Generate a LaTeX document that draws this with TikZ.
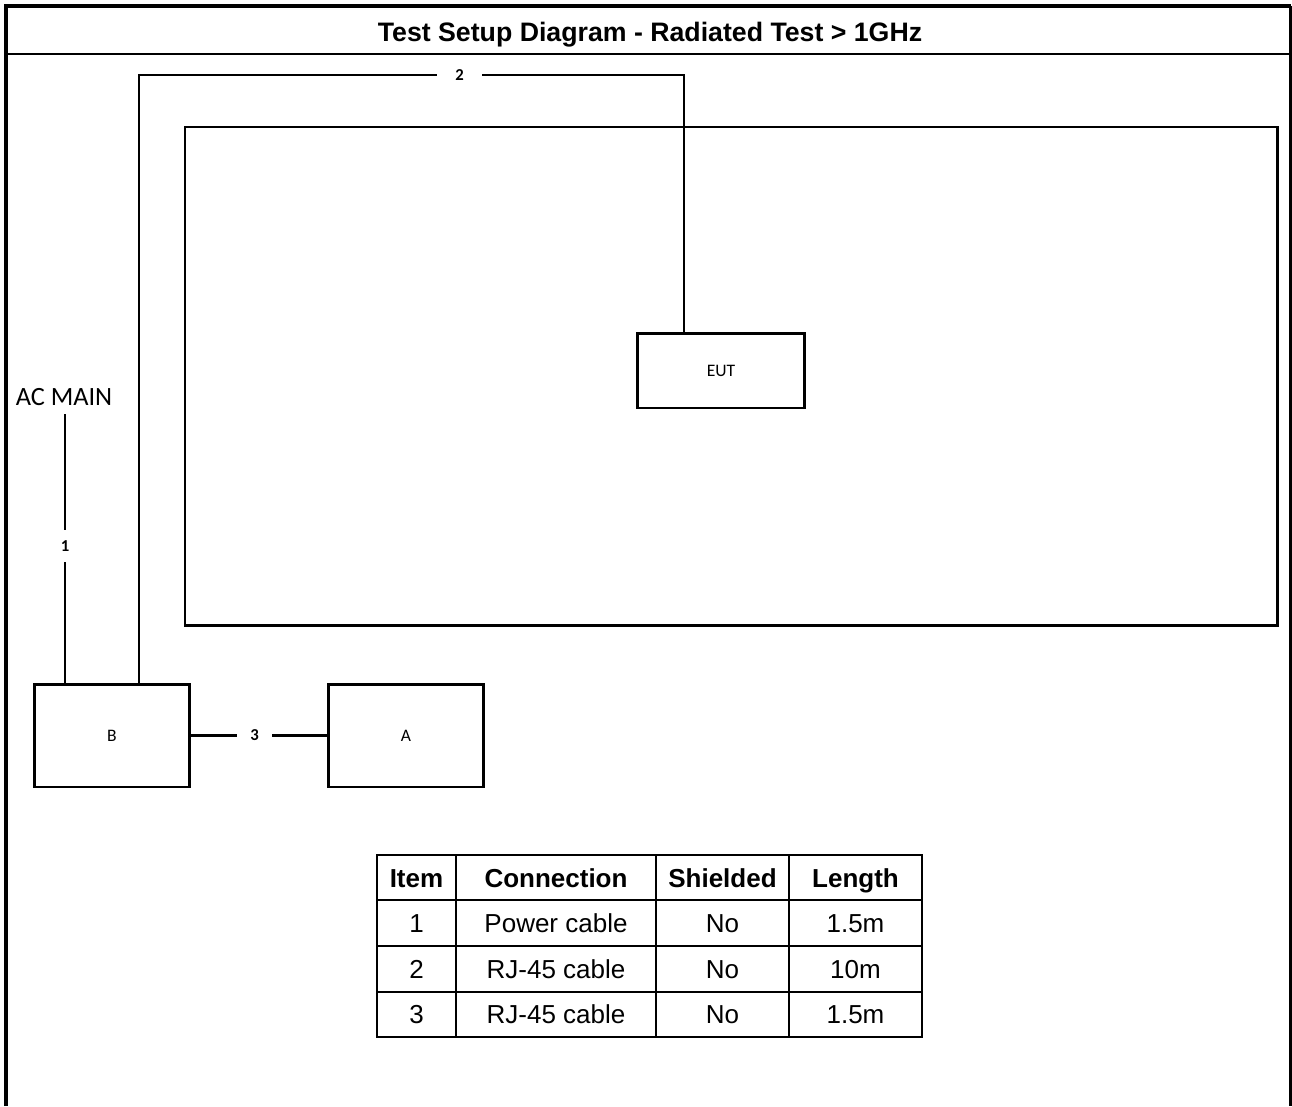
\documentclass[tikz,border=0pt]{standalone}
\usepackage{fontspec}
\setmainfont{Liberation Sans}
\newfontfamily\calibri{Carlito}
\usepackage{tikz}

\tikzset{
  unit/.style={draw, line width=1.7pt, rectangle, outer sep=0pt,
    font=\calibri\fontsize{10}{12}\selectfont},
  cable/.style={line width=1.3pt},
  cablenum/.style={inner sep=0pt, font=\calibri\bfseries\fontsize{9.5}{11}\selectfont},
  cell/.style={anchor=base, font=\fontsize{14.8}{17}\selectfont},
  headcell/.style={anchor=base, font=\bfseries\fontsize{14.8}{17}\selectfont},
}

\begin{document}
\begin{tikzpicture}[x=0.02cm,y=-0.02cm]
    \useasboundingbox (0,0) rectangle (1292,1106);
    % frame and title
    \draw[line width=2.3pt] (6,1106) -- (6,6) -- (1290.5,6);
    \draw[line width=1.2pt] (1290.5,6) -- (1290.5,1106);
    \draw[line width=1.2pt] (6,54) -- (1290.5,54);
    \node[anchor=base, font=\bfseries\fontsize{15.2}{18}\selectfont] (title) at (650,41) {Test Setup Diagram - Radiated Test > 1GHz};
    % test table
    \draw[line width=1.7pt] (185,127) rectangle (1277,625);
    % units
    \node[unit, minimum width=3.36cm, minimum height=1.5cm] (EUT) at (721,370.5) {EUT};
    \node[unit, minimum width=3.12cm, minimum height=2.06cm] (B) at (112,735.5) {B};
    \node[unit, minimum width=3.12cm, minimum height=2.06cm] (A) at (406,735.5) {A};
    \node[font=\calibri\fontsize{15}{18}\selectfont, anchor=base, inner sep=5pt] (acmain) at (64,405) {AC MAIN};
    % cables
    \node[cablenum, minimum height=0.64cm] (n1) at (65,546) {1};
    \node[cablenum, minimum width=0.9cm] (n2) at (459.5,75) {2};
    \node[cablenum, minimum width=0.7cm] (n3) at (254.5,735.5) {3};
    \coordinate (c2r) at (684,75);
    \coordinate (c2l) at (139,75);
    \draw[cable] (acmain.south -| n1) -- (n1.north);
    \draw[cable] (n1.south) -- (B.north -| n1);
    \draw[cable] (EUT.north -| c2r) -- (c2r) -- (n2.east);
    \draw[cable] (n2.west) -- (c2l) -- (B.north -| c2l);
    \draw[cable] (B.east) -- (n3.west);
    \draw[cable] (n3.east) -- (A.west);
    % cable list
    \draw[line width=0.9pt] (377,855) rectangle (922,1037);
    \draw[line width=0.9pt] (456,855) -- (456,1037);
    \draw[line width=0.9pt] (656,855) -- (656,1037);
    \draw[line width=0.9pt] (789,855) -- (789,1037);
    \draw[line width=0.9pt] (377,900) -- (922,900);
    \draw[line width=0.9pt] (377,946) -- (922,946);
    \draw[line width=0.9pt] (377,992) -- (922,992);
    \node[headcell] (hitem) at (416.5,887) {Item};
    \node[headcell] (hconn) at (556,887) {Connection};
    \node[headcell] (hshield) at (722.5,887) {Shielded};
    \node[headcell] (hlen) at (855.5,887) {Length};
    \node[cell] (item1) at (416.5,932) {1};
    \node[cell] (conn1) at (556,932) {Power cable};
    \node[cell] (shield1) at (722.5,932) {No};
    \node[cell] (len1) at (855.5,932) {1.5m};
    \node[cell] (item2) at (416.5,978) {2};
    \node[cell] (conn2) at (556,978) {RJ-45 cable};
    \node[cell] (shield2) at (722.5,978) {No};
    \node[cell] (len2) at (855.5,978) {10m};
    \node[cell] (item3) at (416.5,1023) {3};
    \node[cell] (conn3) at (556,1023) {RJ-45 cable};
    \node[cell] (shield3) at (722.5,1023) {No};
    \node[cell] (len3) at (855.5,1023) {1.5m};
\end{tikzpicture}
\end{document}
